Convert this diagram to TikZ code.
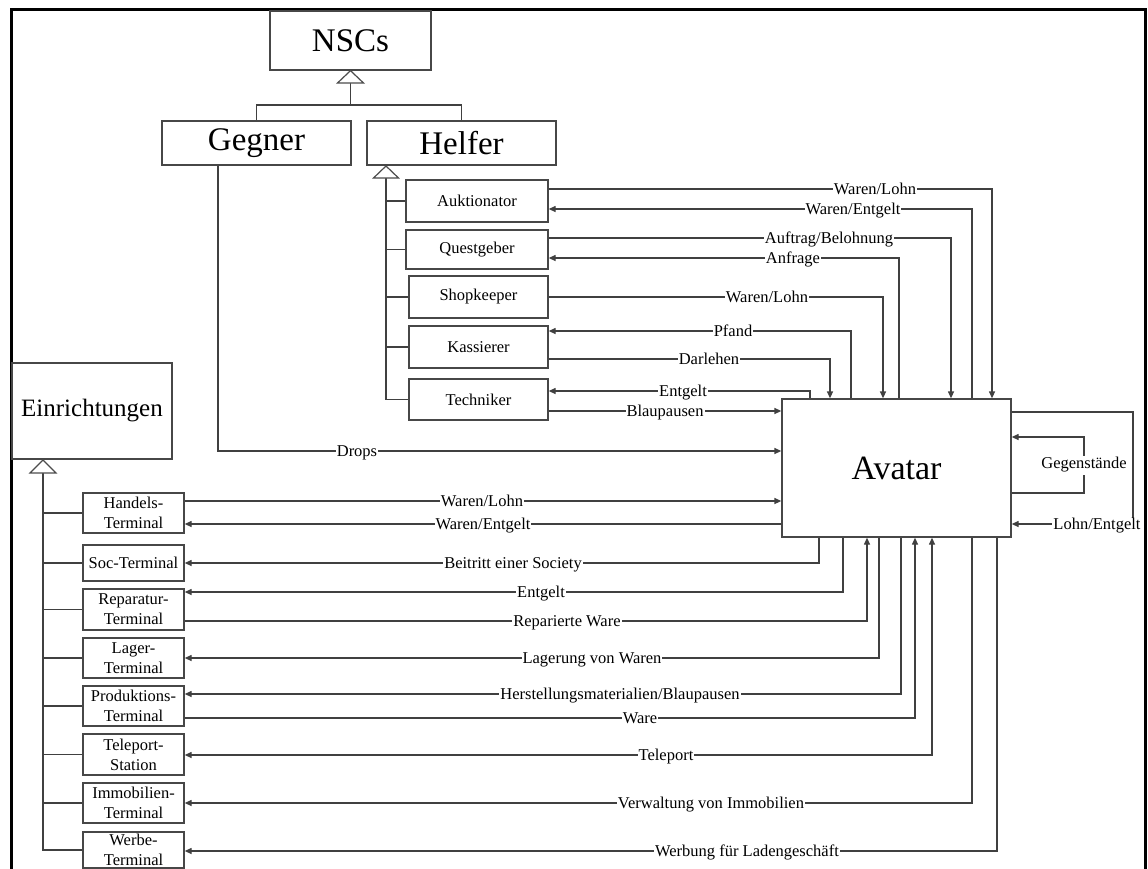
\documentclass[tikz,border=0pt]{standalone}
\usepackage{fontspec}
\setmainfont{Liberation Serif}
\usetikzlibrary{arrows.meta}
\newcommand\smallfs{\fontsize{16.5}{20}\selectfont}
\newcommand\midfs{\fontsize{25}{30}\selectfont}
\newcommand\bigfs{\fontsize{33}{38}\selectfont}
\begin{document}
\begin{tikzpicture}[x=1pt,y=-1pt,
  box/.style={draw=black!72, line width=1.3pt, inner sep=0pt, align=center},
  bigbox/.style={box, font=\bigfs},
  smallbox/.style={box, font=\smallfs},
  termbox/.style={box, font=\smallfs, minimum width=101pt, minimum height=40pt},
  conn/.style={draw=black!75, line width=1.3pt},
  arr/.style={conn, -{Triangle[length=7pt,width=6pt]}},
  darr/.style={conn, {Triangle[length=7pt,width=6pt]}-{Triangle[length=7pt,width=6pt]}},
  lbl/.style={font=\smallfs, fill=white, inner xsep=1pt, inner ysep=0.5pt, anchor=base, yshift=-5.5pt},
  inherit/.style={draw=black!70, line width=1.2pt, fill=white, line join=miter},
  stem/.style={draw=black!75, line width=1.3pt}
]
\useasboundingbox (0,0) rectangle (1148,868);

% outer frame
\draw[line width=3pt] (11,870) -- (11,9.5) -- (1145.5,9.5) -- (1145.5,870);

% class boxes
\node[bigbox, minimum width=161pt, minimum height=59pt] (nsc) at (350.5,40.5) {NSCs};
\node[bigbox, minimum width=189pt, minimum height=44pt] (gegner) at (256.5,143) {Gegner};
\node[bigbox, minimum width=189pt, minimum height=44pt] (helfer) at (461.5,143) {Helfer};
\node[box, font=\fontsize{34}{40}\selectfont, minimum width=229pt, minimum height=138pt] (avatar) at (896.5,468) {Avatar};
\node[box, font=\midfs, minimum width=160pt, minimum height=96pt] (einr) at (92,411) {Einrichtungen};

% helper boxes
\node[smallbox, minimum width=142pt, minimum height=42pt] (auk) at (477,201) {Auktionator};
\node[smallbox, minimum width=142pt, minimum height=39pt] (que) at (477,249.5) {Questgeber};
\node[smallbox, minimum width=139pt, minimum height=42pt] (sho) at (478.5,297) {Shopkeeper};
\node[smallbox, minimum width=139pt, minimum height=42pt] (kas) at (478.5,347) {Kassierer};
\node[smallbox, minimum width=139pt, minimum height=41pt] (tec) at (478.5,399.5) {Techniker};

% facility boxes
\node[termbox] (han) at (133.5,513) {Handels-\\Terminal};
\node[termbox, minimum height=36pt] (soc) at (133.5,563) {Soc-Terminal};
\node[termbox, minimum height=41pt] (rep) at (133.5,609.5) {Reparatur-\\Terminal};
\node[termbox] (lag) at (133.5,658) {Lager-\\Terminal};
\node[termbox] (pro) at (133.5,706) {Produktions-\\Terminal};
\node[termbox, minimum height=41pt] (tel) at (133.5,754.5) {Teleport-\\Station};
\node[termbox] (imm) at (133.5,803) {Immobilien-\\Terminal};
\node[termbox, minimum height=36pt] (wer) at (133.5,850) {Werbe-\\Terminal};

% inheritance: NSCs
\draw[stem] (350.5,83) -- (350.5,105);
\draw[stem] (gegner.north) -- (gegner.north |- 0,105) -- (helfer.north |- 0,105) -- (helfer.north);
\draw[inherit] (nsc.south) -- (337.5,83) -- (363.5,83) -- cycle;

% inheritance: Helfer
\coordinate (hs) at (386,178);
\draw[stem] (hs) -- (386,0 |- tec.west) -- (tec.west);
\foreach \b in {auk,que,sho,kas}
  \draw[stem] (386,0 |- \b.west) -- (\b.west);
\draw[inherit] (386,166) -- (373.5,178) -- (398.5,178) -- cycle;

% inheritance: Einrichtungen
\coordinate (es) at (43,473);
\draw[stem] (es) -- (43,0 |- wer.west) -- (wer.west);
\foreach \b in {han,soc,rep,lag,pro,tel,imm}
  \draw[stem] (43,0 |- \b.west) -- (\b.west);
\draw[inherit] (43,460) -- (30,473) -- (56,473) -- cycle;

% helper flows
\draw[arr] (auk.east |- 0,189) -| (992,0 |- avatar.north);
\node[lbl] (h1) at (875,189) {Waren/Lohn};
\draw[arr] (972,0 |- avatar.north) |- (auk.east |- 0,209);
\node[lbl] (h2) at (853,209) {Waren/Entgelt};
\draw[arr] (que.east |- 0,238) -| (951,0 |- avatar.north);
\node[lbl] (h3) at (829,238) {Auftrag/Belohnung};
\draw[arr] (899,0 |- avatar.north) |- (que.east |- 0,258);
\node[lbl] (h4) at (793,258) {Anfrage};
\draw[arr] (sho.east) -| (883,0 |- avatar.north);
\node[lbl] (h5) at (767,297) {Waren/Lohn};
\draw[arr] (851,0 |- avatar.north) |- (kas.east |- 0,331);
\node[lbl] (h6) at (733,331) {Pfand};
\draw[arr] (kas.east |- 0,359) -| (830,0 |- avatar.north);
\node[lbl] (h7) at (709,359) {Darlehen};
\draw[arr] (810,0 |- avatar.north) |- (tec.east |- 0,391);
\node[lbl] (h8) at (683,391) {Entgelt};
\draw[arr] (tec.east |- 0,411) -- (avatar.west |- 0,411);
\node[lbl] (h9) at (665,411) {Blaupausen};

% drops
\draw[arr] (218,0 |- gegner.south) |- (avatar.west |- 0,451);
\node[lbl] (d1) at (357,451) {Drops};

% avatar loops
\draw[arr] (avatar.east |- 0,412) -- (1133,412) -- (1133,524) -- (avatar.east |- 0,524);
\node[lbl] (a1) at (1097,524) {Lohn/Entgelt};
\draw[arr] (avatar.east |- 0,493) -- (1084,493) -- (1084,437) -- (avatar.east |- 0,437);
\node[font=\smallfs, fill=white, inner xsep=1pt, inner ysep=2pt] (a2) at (1084,465) {Gegenstände};

% facility flows
\draw[arr] (han.east |- 0,501) -- (avatar.west |- 0,501);
\node[lbl] (f1) at (482,501) {Waren/Lohn};
\draw[arr] (avatar.west |- 0,524) -- (han.east |- 0,524);
\node[lbl] (f2) at (483,524) {Waren/Entgelt};
\draw[arr] (819,0 |- avatar.south) |- (soc.east);
\node[lbl] (f3) at (513,563) {Beitritt einer Society};
\draw[arr] (843,0 |- avatar.south) |- (rep.east |- 0,592);
\node[lbl] (f4) at (541,592) {Entgelt};
\draw[arr] (rep.east |- 0,621) -| (867,0 |- avatar.south);
\node[lbl] (f5) at (567,621) {Reparierte Ware};
\draw[arr] (879,0 |- avatar.south) |- (lag.east |- 0,658);
\node[lbl] (f6) at (592,658) {Lagerung von Waren};
\draw[arr] (901,0 |- avatar.south) |- (pro.east |- 0,694);
\node[lbl] (f7) at (620,694) {Herstellungsmaterialien/Blaupausen};
\draw[arr] (pro.east |- 0,718) -| (915,0 |- avatar.south);
\node[lbl] (f8) at (640,718) {Ware};
\draw[darr] (tel.east |- 0,755) -| (932,0 |- avatar.south);
\node[lbl] (f9) at (666,755) {Teleport};
\draw[arr] (972,0 |- avatar.south) |- (imm.east);
\node[lbl] (f10) at (711,803) {Verwaltung von Immobilien};
\draw[arr] (997,0 |- avatar.south) |- (wer.east |- 0,851);
\node[lbl] (f11) at (747,851) {Werbung für Ladengeschäft};

\end{tikzpicture}
\end{document}
